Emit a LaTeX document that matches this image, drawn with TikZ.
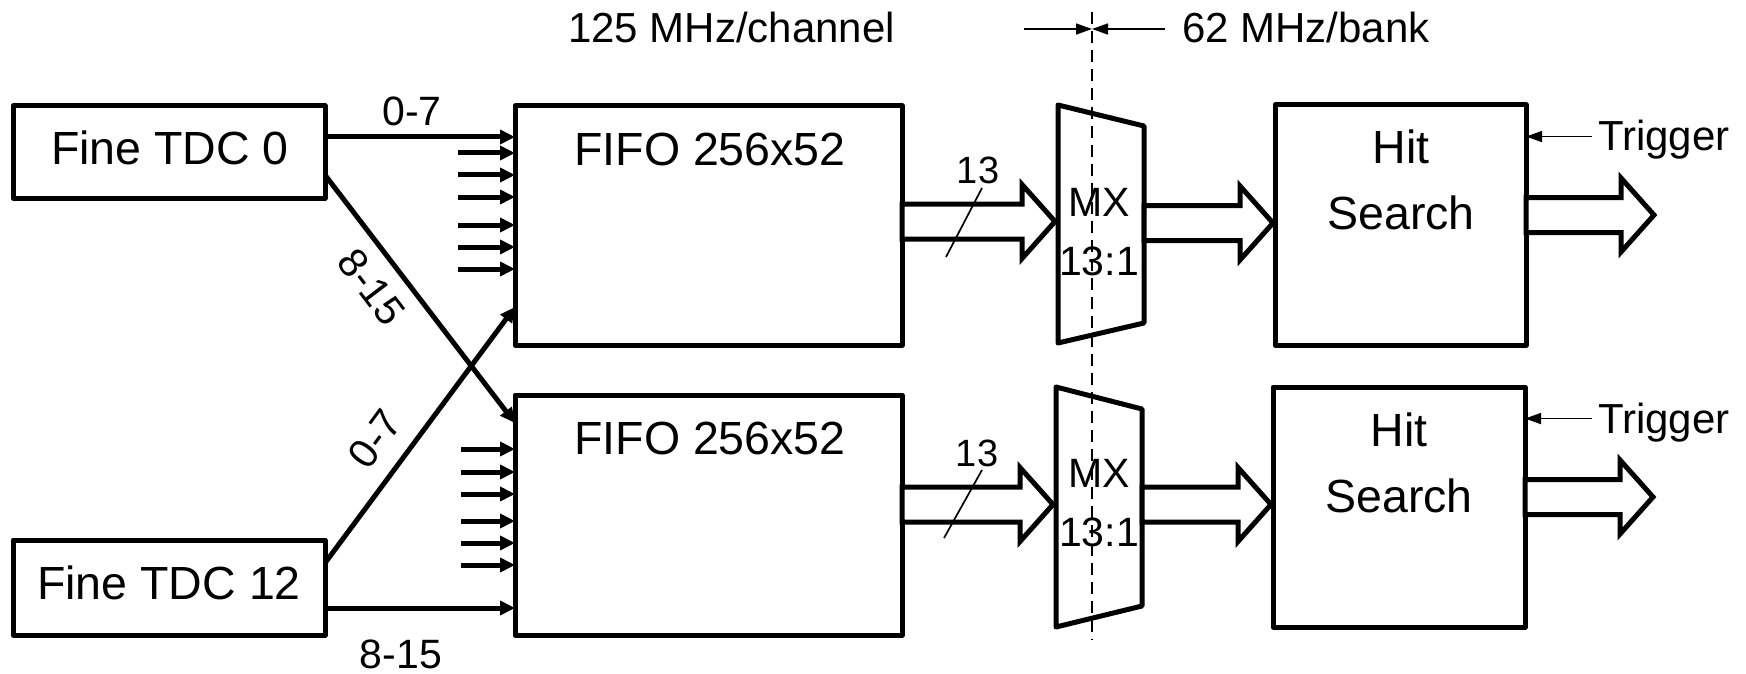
\documentclass[tikz,border=0pt]{standalone}
\usepackage{fontspec}
\setmainfont{Liberation Sans}
\usetikzlibrary{arrows.meta,calc}
\begin{document}
\begin{tikzpicture}[x=1pt,y=-1pt,
  box/.style={draw,line width=5pt,line join=round,inner sep=0pt,outer sep=0pt},
  ghost/.style={inner sep=0pt,outer sep=0pt},
  boxline/.style={line width=5pt,line join=round},
  conn/.style={line width=5pt,-{Triangle[length=15pt,width=14pt]}},
  thinarr/.style={line width=1.6pt,-{Triangle[length=16pt,width=11pt]}},
  slash/.style={line width=1.7pt},
  wide/.style={draw,fill=white,line width=5pt,line join=miter,
    to path={let \p1=(\tikztostart),\p2=(\tikztotarget) in
      (\x1,\y2+17.5pt) -- (\x2-33pt,\y2+17.5pt) -- (\x2-33pt,\y2+37pt) -- (\x2,\y2)
      -- (\x2-33pt,\y2-37pt) -- (\x2-33pt,\y2-17.5pt) -- (\x1,\y2-17.5pt) -- cycle}},
  big/.style={inner sep=0pt,font=\fontsize{46.5}{56}\selectfont},
  hit/.style={inner sep=0pt,align=center,font=\fontsize{46.5}{66}\selectfont},
  mxt/.style={inner sep=0pt,align=center,font=\fontsize{41}{59}\selectfont},
  top/.style={inner sep=0pt,font=\fontsize{42}{50}\selectfont},
  small/.style={inner sep=0pt,font=\fontsize{41}{48}\selectfont},
  tiny/.style={inner sep=0pt,font=\fontsize{38}{46}\selectfont}]
\useasboundingbox (0,0) rectangle (1746,674);

% ---- boxes
\node[box,minimum width=312pt,minimum height=92pt] (tdc0) at (169,152) {};
\node[box,minimum width=312pt,minimum height=95pt] (tdc12) at (169,587.5) {};
\node[box,minimum width=387pt,minimum height=239pt] (fifo1) at (708.5,225.5) {};
\node[box,minimum width=387pt,minimum height=240pt] (fifo2) at (708.5,515) {};
\node[ghost,minimum width=86pt,minimum height=238pt] (mx1) at (1101,224) {};
\node[ghost,minimum width=86pt,minimum height=240pt] (mx2) at (1099,507) {};
\node[box,minimum width=251pt,minimum height=240pt] (hit1) at (1400.5,225) {};
\node[box,minimum width=252pt,minimum height=240pt] (hit2) at (1399,507) {};
\draw[boxline] (mx1.north west) -- ([yshift=-21pt]mx1.north east) -- ([yshift=20pt]mx1.south east) -- (mx1.south west) -- cycle;
\draw[boxline] (mx2.north west) -- ([yshift=-22pt]mx2.north east) -- ([yshift=21pt]mx2.south east) -- (mx2.south west) -- cycle;

% ---- box texts
\node[big] (tdc0t) at (170,148) {Fine TDC 0};
\node[big] (tdc12t) at (169,583) {Fine TDC 12};
\node[big] (fifo1t) at (710,149) {FIFO 256x52};
\node[big] (fifo2t) at (710,438) {FIFO 256x52};
\node[mxt] (mx1t) at (1099,232.5) {MX\\13:1};
\node[mxt] (mx2t) at (1099,503) {MX\\13:1};
\node[hit] (hit1t) at (1401,180) {Hit\\Search};
\node[hit] (hit2t) at (1399,462.5) {Hit\\Search};

% ---- TDC connections
\draw[conn] ([yshift=15pt]tdc0.east) coordinate (a0) -- (a0 -| fifo1.west);
\draw[conn] ([yshift=-23pt]tdc0.east) -- ([yshift=92pt]fifo2.west);
\draw[conn] ([yshift=24.5pt]tdc12.east) -- ([yshift=-81.5pt]fifo1.west);
\draw[conn] ([yshift=-20.5pt]tdc12.east) coordinate (a12) -- (a12 -| fifo2.west);
\foreach \yy in {153,175,197,225,247,269}
  \draw[conn] (458,\yy) coordinate (s) -- (s -| fifo1.west);
\foreach \yy in {449,472,494,521,543,565}
  \draw[conn] (461,\yy) coordinate (s) -- (s -| fifo2.west);
\node[small,anchor=base] (l07a) at (412,126) {0-7};
\node[small,rotate=-52.8] (l815a) at (372,287) {8-15};
\node[small,rotate=53.7] (l07b) at (375,439) {0-7};
\node[small,anchor=base] (l815b) at (401,668) {8-15};

% ---- wide arrows
\coordinate (out1) at (1654,215);
\coordinate (out2) at (1653,497);
\draw[wide] (fifo1.east) to ([xshift=-3pt,yshift=2.5pt]mx1.west);
\draw[wide] (mx1.east) to ([xshift=-2pt,yshift=2pt]hit1.west);
\draw[wide] (hit1.east) to (out1);
\draw[wide] (fifo2.east) to ([xshift=-3pt,yshift=2.5pt]mx2.west);
\draw[wide] (mx2.east) to ([xshift=-2pt,yshift=2.5pt]hit2.west);
\draw[wide] (hit2.east) to (out2);

% ---- bus width marks
\node[tiny] (w1) at (978,170.5) {13};
\node[tiny] (w2) at (977,453) {13};
\draw[slash] (982,188) -- (946,257);
\draw[slash] (982,470) -- (944,538);

% ---- triggers
\node[top,anchor=base west] (trig1) at (1598,151) {Trigger};
\node[top,anchor=base west] (trig2) at (1598,433) {Trigger};
\coordinate (t1) at ([xshift=-6pt,yshift=3.6pt]trig1.west);
\coordinate (t2) at ([xshift=-6pt,yshift=3.6pt]trig2.west);
\draw[thinarr] (t1) -- (t1 -| hit1.east);
\draw[thinarr] (t2) -- (t2 -| hit2.east);

% ---- clock domains
\node[top,anchor=base west] (ch) at (568,43) {125 MHz/channel};
\node[top,anchor=base west] (bank) at (1182,43) {62 MHz/bank};
\coordinate (mid) at (1092,29);
\coordinate (la) at (1024,29);
\coordinate (ra) at (1165,29);
\draw[thinarr] (la) -- (mid);
\draw[thinarr] (ra) -- (mid);
\coordinate (dtop) at (1092,12);
\coordinate (dbot) at (1092,640);
\draw[line width=1.6pt,dash pattern=on 12pt off 7pt] (dtop) -- (dbot);
\end{tikzpicture}
\end{document}
